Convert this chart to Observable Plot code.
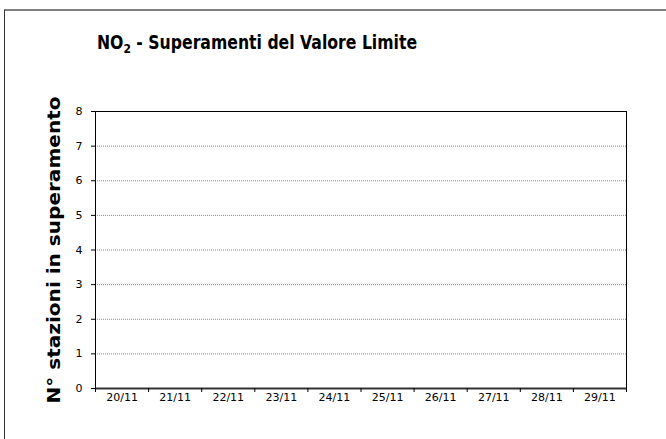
<!DOCTYPE html>
<html>
<head>
<meta charset="utf-8">
<script src="https://cdn.jsdelivr.net/npm/d3@7"></script>
<script src="https://cdn.jsdelivr.net/npm/@observablehq/plot@0.6"></script>
<style>
  html, body { margin: 0; padding: 0; background: #fff; }
  #wrap { position: relative; width: 666px; height: 439px; overflow: hidden; background: #fff; font-family: "DejaVu Sans", Verdana, sans-serif; }
  #border { position: absolute; left: 4px; top: 9px; width: 700px; height: 500px; border-top: 2px solid #808080; border-left: 1px solid #333; }
  #title { position: absolute; left: 97px; top: 31px; font-weight: bold; font-size: 19px; color: #000; white-space: nowrap; transform: scaleX(0.825); transform-origin: 0 0; }
  #title sub { font-size: 13px; vertical-align: -4px; line-height: 0; }
  #chart { position: absolute; left: 0; top: 90px; }
</style>
</head>
<body>
<div id="wrap">
  <div id="border"></div>
  <div id="title">NO<sub>2</sub> - Superamenti del Valore Limite</div>
  <div id="chart"></div>
</div>
<script>
const categories = ["20/11","21/11","22/11","23/11","24/11","25/11","26/11","27/11","28/11","29/11"];
const values = [0,0,0,0,0,0,0,0,0,0];
const yTicks = [0,1,2,3,4,5,6,7,8];
const yLabel = "N° stazioni in superamento";

const n = categories.length;
const data = categories.map((c, i) => ({c, i, v: values[i]}));

const chart = Plot.plot({
  width: 666,
  height: 349,
  marginTop: 21,
  marginBottom: 51,
  marginLeft: 95,
  marginRight: 40,
  style: {fontFamily: "DejaVu Sans, Verdana, sans-serif", fontSize: "11px", color: "#000", background: "transparent", overflow: "visible"},
  x: {domain: [0, n], axis: null},
  y: {domain: [0, 8], axis: null},
  marks: [
    Plot.gridY(yTicks.filter(d => d > 0 && d < 8), {stroke: "#888", strokeOpacity: 1, strokeDasharray: "1,1", strokeWidth: 1}),
    Plot.frame({stroke: "#000", strokeWidth: 1}),
    Plot.ruleY([0], {stroke: "#333", strokeWidth: 2}),
    Plot.ruleX([0], {stroke: "#000", strokeWidth: 1}),
    Plot.rectY(data, {x1: d => d.i, x2: d => d.i + 1, y: "v", fill: "#336"}),
    Plot.axisY(yTicks, {tickSize: 4, tickFormat: () => "", label: null, stroke: "#000"}),
    Plot.text(yTicks, {y: d => d, text: d => String(d), frameAnchor: "left", textAnchor: "end", dx: -13, fontSize: 11, fill: "#000"}),
    Plot.axisX(d3.range(n + 1), {tickSize: 4, tickFormat: () => "", label: null, stroke: "#000"}),
    Plot.text(data, {x: d => d.i + 0.5, text: "c", frameAnchor: "bottom", lineAnchor: "top", dy: 5, fontSize: 11, fill: "#000"}),
    Plot.text([yLabel], {frameAnchor: "left", textAnchor: "middle", rotate: -90, dx: -41, fontWeight: "bold", fontSize: 17, fill: "#000", className: "ylabel"})
  ]
});
document.getElementById("chart").appendChild(chart);
d3.select(chart).selectAll(".ylabel text")
  .attr("textLength", 307)
  .attr("lengthAdjust", "spacingAndGlyphs");
</script>
</body>
</html>
